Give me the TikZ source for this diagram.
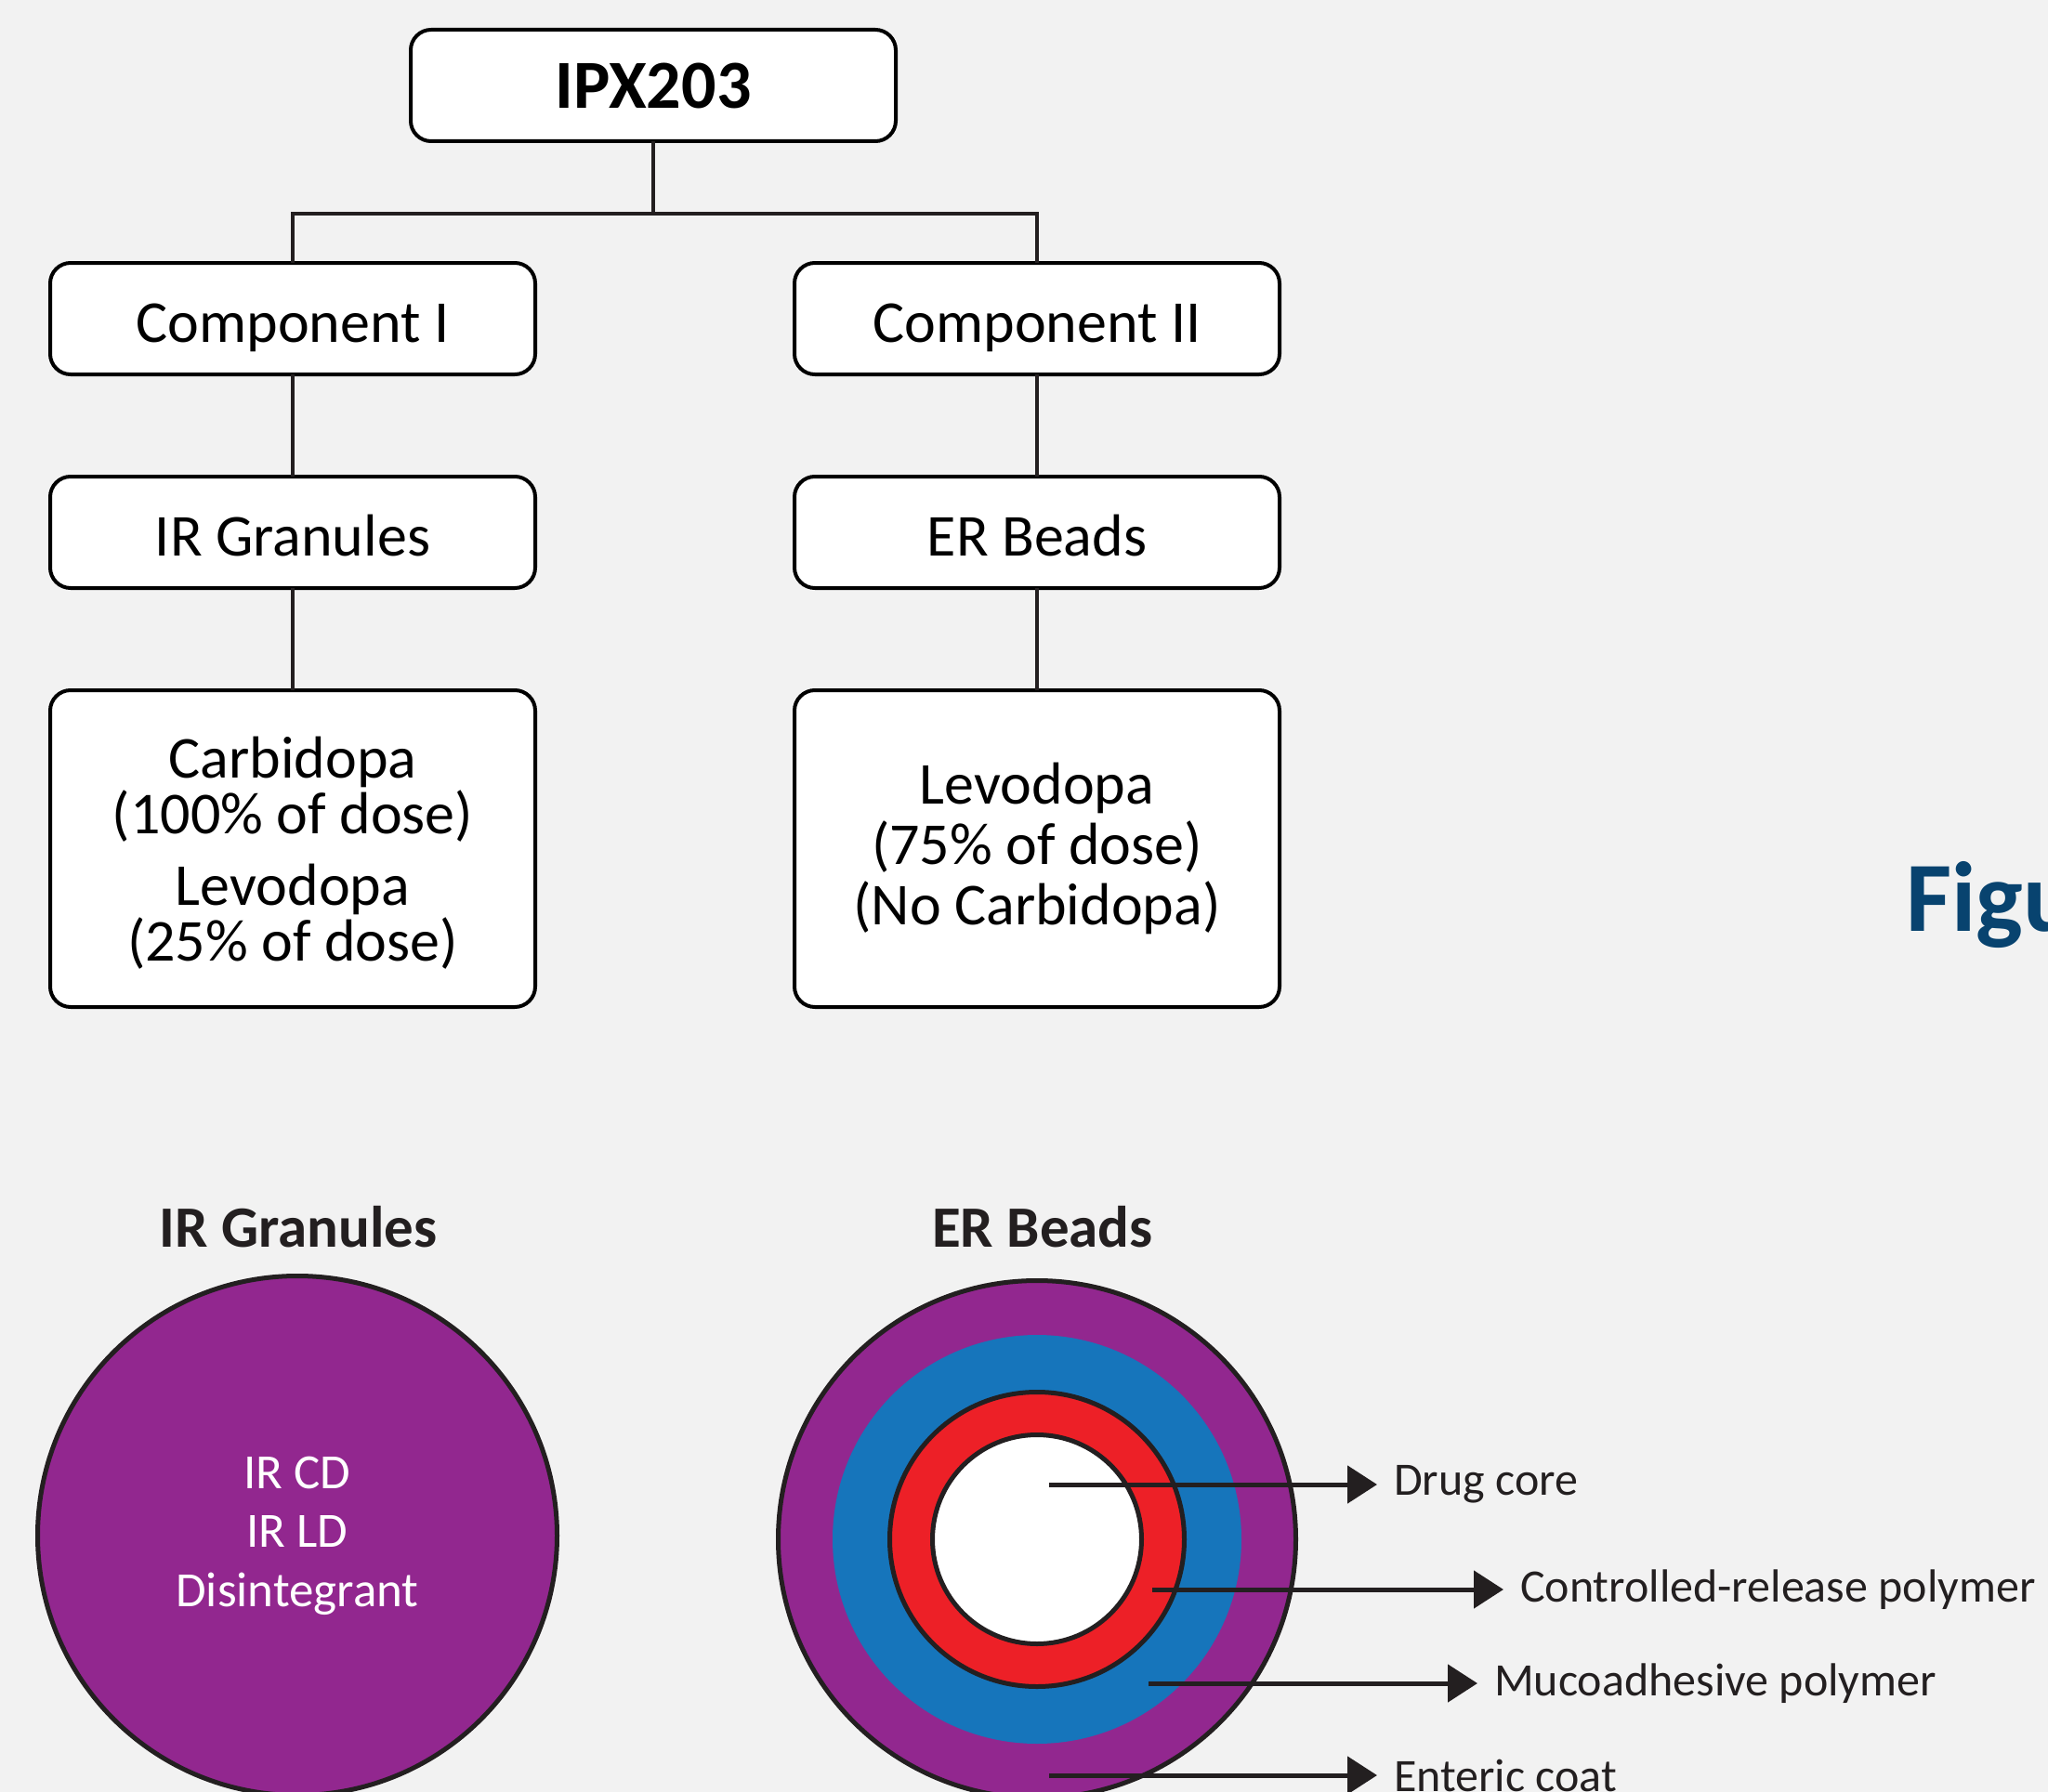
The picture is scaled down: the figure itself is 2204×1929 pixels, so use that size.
\documentclass[tikz,border=0pt]{standalone}
\usepackage{fontspec}
\setmainfont{Carlito}
\usetikzlibrary{arrows.meta,positioning}
\definecolor{bgc}{HTML}{F2F2F2}
\definecolor{ink}{HTML}{231F20}
\definecolor{purp}{HTML}{92278F}
\definecolor{blu}{HTML}{1675BB}
\definecolor{rd}{HTML}{ED2027}
\definecolor{figblue}{HTML}{08436F}

\begin{document}
\begin{tikzpicture}[
  x=1pt, y=-1pt,
  node distance=110pt,
  boxbase/.style={draw=black, line width=4pt, rounded corners=22pt, fill=white, outer sep=0pt,
    minimum width=522pt, align=center, font=\fontsize{64}{60}\selectfont},
  box/.style={boxbase, minimum height=120pt, text height=52pt, text depth=2pt},
  bigbox/.style={boxbase, minimum height=341pt},
  title/.style={font=\fontsize{63}{70}\selectfont\bfseries, text=ink},
  layer/.style={circle, inner sep=0pt, outer sep=0pt},
  lbl/.style={anchor=west, inner xsep=18pt, inner ysep=0pt, outer sep=0pt, text=ink, font=\fontsize{50}{60}\selectfont},
  link/.style={draw=ink, line width=3.5pt},
  ptr/.style={draw=ink, line width=5pt, -{Triangle[length=32pt,width=40pt]}}
]
\useasboundingbox (0,0) rectangle (2204,1929);
\clip (0,0) rectangle (2204,1929);
\fill[bgc] (0,0) rectangle (2204,1929);

% tree
\node[box, font=\fontsize{74}{80}\selectfont\bfseries] (ipx) at (703,92) {IPX203};
\node[box] (c1) at (315,343) {Component I};
\node[box] (c2) at (1116,343) {Component II};
\node[box, below=of c1] (irg) {IR Granules};
\node[box, below=of c2] (erb) {ER Beads};
\node[bigbox, below=of irg, text depth=0pt] (irdose) {Carbidopa\\(100\% of dose)\\[17pt]Levodopa\\(25\% of dose)};
\node[bigbox, below=of erb, font=\fontsize{64}{65}\selectfont] (erdose) {Levodopa\\(75\% of dose)\\(No Carbidopa)};
\coordinate (bus) at (703,230);

\draw[link] (ipx) -- (bus);
\draw[link] (c1) |- (bus) -| (c2);
\draw[link] (c1) -- (irg);
\draw[link] (irg) -- (irdose);
\draw[link] (c2) -- (erb);
\draw[link] (erb) -- (erdose);

\node[anchor=base west, inner sep=0pt, text=figblue, font=\fontsize{107}{110}\selectfont\bfseries] (fig) at (2051,1002) {Figu};

% granule and bead
\node[title] (irt) at (321,1321) {IR Granules};
\node[title] (ert) at (1122,1321) {ER Beads};
\node[layer, draw=ink, line width=5pt, fill=purp, minimum size=559pt, text=white, align=center,
  font=\fontsize{53}{63.5}\selectfont] (irbead) at (320,1653) {IR CD\\IR LD\\Disintegrant};

\node[layer, draw=ink, line width=5pt, fill=purp, minimum size=557pt] (enteric) at (1116,1657) {};
\node[layer, fill=blu, minimum size=440pt] (muco) at (1116,1657) {};
\node[layer, draw=ink, line width=5pt, fill=rd, minimum size=317pt] (crp) at (1116,1657) {};
\node[layer, draw=ink, line width=5pt, fill=white, minimum size=225pt] (core) at (1116,1657) {};

\coordinate (pcore) at (1129,1598);
\coordinate (pcrp) at (1240,1711);
\coordinate (pmuco) at (1236,1812);
\coordinate (pent) at (1129,1911);
\node[lbl] (lcore) at (1482,1598) {Drug core};
\node[lbl] (lcrp) at (1618,1711) {Controlled-release polymer};
\node[lbl] (lmuco) at (1590,1812) {Mucoadhesive polymer};
\node[lbl] (lent) at (1482,1911) {Enteric coat};

\draw[ptr] (pcore) -- (lcore.west);
\draw[ptr] (pcrp) -- (lcrp.west);
\draw[ptr] (pmuco) -- (lmuco.west);
\draw[ptr] (pent) -- (lent.west);
\end{tikzpicture}
\end{document}
